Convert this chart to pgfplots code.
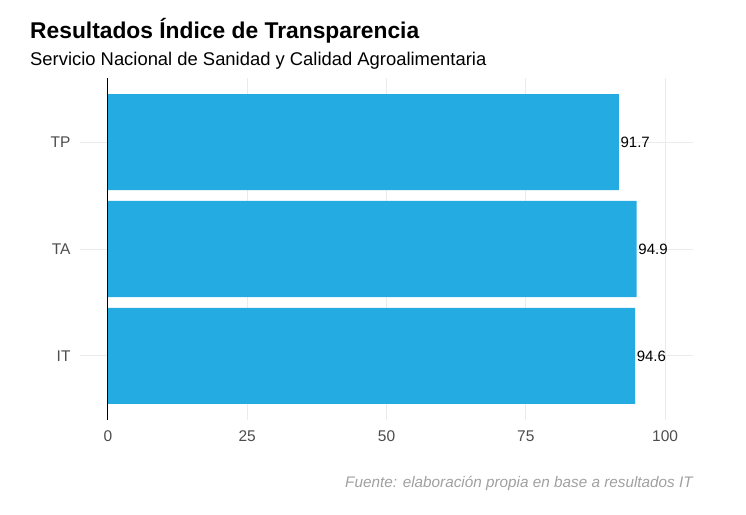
\documentclass[border=0pt]{standalone}
\usepackage{pgfplots}
\pgfplotsset{compat=1.18}
\usepackage{fontspec}
\setmainfont{Liberation Sans}
\definecolor{barblue}{HTML}{23ABE2}
\definecolor{gridgrey}{HTML}{EBEBEB}
\definecolor{ticktext}{HTML}{4D4D4D}
\definecolor{captext}{HTML}{A0A0A0}
\begin{document}
\begin{tikzpicture}[x=1bp,y=1bp]
\path[use as bounding box] (0,0) rectangle (746,515);
\node[anchor=base west, inner sep=0pt] at (30,476) {\fontsize{22.8bp}{24bp}\selectfont\bfseries Resultados Índice de Transparencia};
\node[anchor=base west, inner sep=0pt] at (30,449) {\fontsize{18.4bp}{20bp}\selectfont Servicio Nacional de Sanidad y Calidad Agroalimentaria};
\node[anchor=base east, inner sep=0pt, text=captext] at (693,27) {\fontsize{15.3bp}{17bp}\selectfont\itshape Fuente: elaboración propia en base a resultados IT};
\begin{axis}[
  at={(80bp,95bp)}, anchor=south west,
  scale only axis, width=613bp, height=342bp,
  xmin=-5, xmax=105, ymin=0.4, ymax=3.6,
  xtick={0,25,50,75,100},
  ytick={1,2,3}, yticklabels={IT,TA,TP},
  axis line style={draw=none},
  major tick length=0pt,
  grid=major,
  major grid style={gridgrey, line width=0.9bp},
  tick label style={text=ticktext, font=\fontsize{15.5bp}{17bp}\selectfont},
  xticklabel style={yshift=-7bp},
  yticklabel style={xshift=-6bp},
  /pgf/number format/assume math mode=true,
]
\addplot[xbar, bar width=0.9, fill=barblue, draw=none,
  nodes near coords, point meta=x,
  nodes near coords style={anchor=west, inner sep=1.5bp, text=black, font=\fontsize{15bp}{16bp}\selectfont, /pgf/number format/fixed, /pgf/number format/precision=1, /pgf/number format/fixed zerofill, /pgf/number format/assume math mode=true}]
  coordinates {(94.6,1) (94.9,2) (91.7,3)};
\addplot[black, line width=0.9bp, forget plot] coordinates {(0,0.4) (0,3.6)};
\end{axis}
\end{tikzpicture}
\end{document}
